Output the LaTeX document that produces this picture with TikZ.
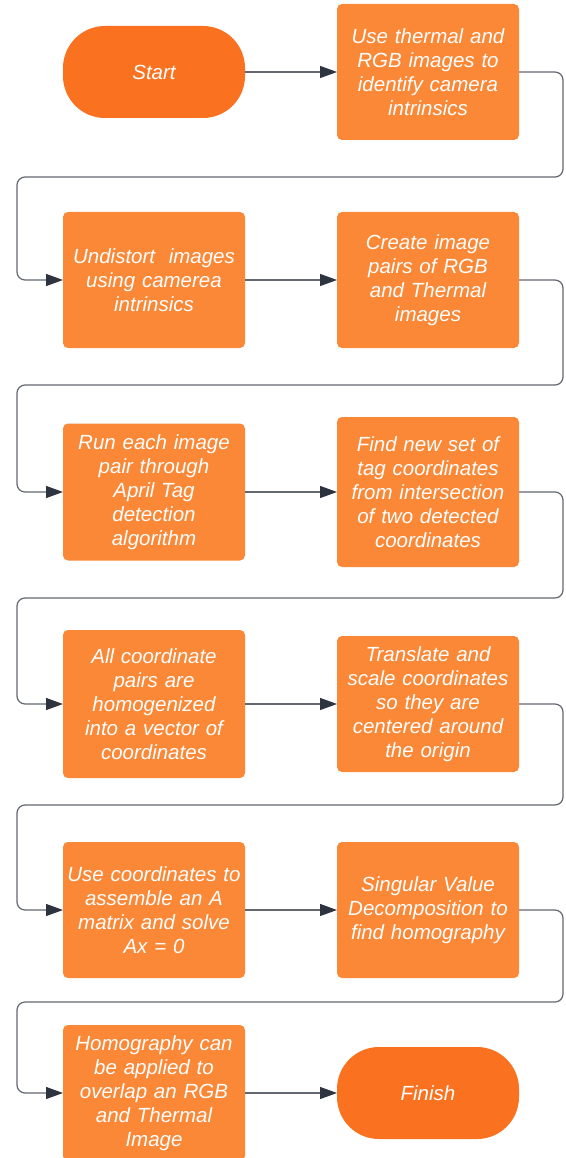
\documentclass[tikz,border=0pt]{standalone}
\usepackage{fontspec}
\setmainfont{Liberation Sans}
\usetikzlibrary{
arrows.meta,
calc,
positioning
}
\definecolor{boxorange}{RGB}{250,136,55}
\definecolor{ovalorange}{RGB}{250,114,32}
\definecolor{linegray}{RGB}{98,103,112}
\definecolor{tipgray}{RGB}{45,52,64}

\begin{document}
\begin{tikzpicture}
[x=1pt, y=-1pt,
block_normal/.style ={rectangle, draw=none, fill=boxorange, align=center, text width=174pt, inner xsep=4pt, inner ysep=0pt, minimum height=136pt, rounded corners=5pt, text=white, font=\fontsize{20.5}{24}\selectfont\itshape, outer sep=0},
block_term/.style ={block_normal, fill=ovalorange, minimum height=92pt, rounded corners=42pt},
line_inner/.style ={draw=linegray, line width=1.2pt, -{Triangle[length=17pt, width=12pt, color=tipgray]}},
line_outer/.style ={line_inner, rounded corners=8pt}
]

\useasboundingbox (0,0) rectangle (565,1158);

% row 1
\node [block_term] (start) at (154,72) {Start};
\node [block_normal] (intr) at (428,72) {Use thermal and\\RGB images to\\identify camera\\intrinsics};
% row 2
\node [block_normal] (undist) at (154,280) {Undistort\ \ images\\using camerea\\intrinsics};
\node [block_normal] (pairs) at (428,280) {Create image\\pairs of RGB\\and Thermal\\images};
% row 3
\node [block_normal, minimum height=137pt] (april) at (154,492) {Run each image\\pair through\\April Tag\\detection\\algorithm};
\node [block_normal, minimum height=150pt] (inter) at (428,492) {Find new set of\\tag coordinates\\from intersection\\of two detected\\coordinates};
% row 4
\node [block_normal, minimum height=148pt] (homog) at (154,704) {All coordinate\\pairs are\\homogenized\\into a vector of\\coordinates};
\node [block_normal] (norm) at (428,704) {Translate and\\scale coordinates\\so they are\\centered around\\the origin};
% row 5
\node [block_normal] (amat) at (154,910) {Use coordinates to\\assemble an A\\matrix and solve\\Ax = 0};
\node [block_normal] (svd) at (428,910) {Singular Value\\Decomposition to\\find homography};
% row 6
\node [block_normal] (overlap) at (154,1093) {Homography can\\be applied to\\overlap an RGB\\and Thermal\\Image};
\node [block_term] (finish) at (428,1093) {Finish};

% Rueckfuehrung links
\foreach \i/\y in {1/177, 2/385, 3/598, 4/805, 5/1002}
  \coordinate (t\i) at (17,\y);

%%Pfeile%%%
\draw [line_inner] (start) -- (intr);
\draw [line_outer] (intr.east) -- ++(44,0) |- (t1) |- (undist.west);
\draw [line_inner] (undist) -- (pairs);
\draw [line_outer] (pairs.east) -- ++(44,0) |- (t2) |- (april.west);
\draw [line_inner] (april) -- (inter);
\draw [line_outer] (inter.east) -- ++(44,0) |- (t3) |- (homog.west);
\draw [line_inner] (homog) -- (norm);
\draw [line_outer] (norm.east) -- ++(44,0) |- (t4) |- (amat.west);
\draw [line_inner] (amat) -- (svd);
\draw [line_outer] (svd.east) -- ++(44,0) |- (t5) |- (overlap.west);
\draw [line_inner] (overlap) -- (finish);

\end{tikzpicture}
\end{document}
